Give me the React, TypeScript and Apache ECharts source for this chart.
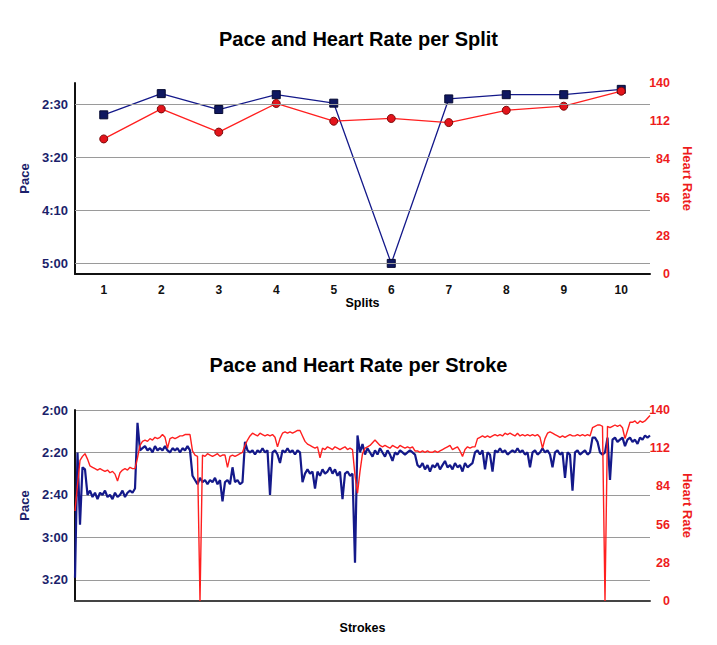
import React, { useEffect, useRef } from "react";
import * as echarts from "echarts";

// ---------- data ----------
const SPLITS = ["1", "2", "3", "4", "5", "6", "7", "8", "9", "10"];
// pace in seconds per 500m
const SPLIT_PACE = [160, 140, 155, 141, 149, 300, 145, 141, 141, 136];
const SPLIT_HR = [99, 121, 104, 125, 112, 114, 111, 120, 123, 134];
const SPLIT_PACE_GRID = [150, 200, 250, 300];

const STROKE_PACE = [
  199, 140, 174, 147, 148, 160, 158, 161, 159, 162,
  159, 160, 158, 161, 160, 162, 159, 161, 160, 158,
  161, 159, 158, 159, 157, 126, 139, 138, 137, 139,
  138, 140, 137, 139, 138, 139, 137, 139, 140, 138,
  139, 138, 140, 138, 139, 137, 139, 151, 153, 155,
  152, 154, 153, 155, 153, 154, 152, 155, 153, 163,
  154, 153, 155, 147, 154, 153, 155, 154, 135, 139,
  140, 139, 141, 139, 140, 138, 140, 139, 160, 140,
  139, 141, 145, 139, 140, 138, 140, 139, 141, 139,
  140, 154, 150, 148, 150, 149, 157, 149, 151, 148,
  150, 149, 147, 150, 148, 151, 149, 162, 150, 149,
  151, 150, 192, 132, 140, 136, 141, 138, 140, 142,
  139, 141, 138, 140, 142, 139, 141, 144, 140, 141,
  139, 140, 141, 140, 139, 140, 141, 146, 147, 145,
  148, 146, 149, 146, 147, 145, 148, 146, 144, 147,
  146, 148, 145, 147, 146, 149, 145, 147, 146, 145,
  140, 139, 141, 139, 148, 140, 141, 149, 139, 140,
  138, 140, 139, 141, 140, 139, 140, 138, 140, 139,
  141, 140, 147, 140, 139, 141, 140, 138, 140, 139,
  141, 147, 140, 139, 141, 140, 152, 140, 141, 158,
  140, 139, 141, 140, 139, 141, 140, 133, 133, 135,
  140, 141, 140, 133, 153, 134, 133, 135, 134, 133,
  137, 134, 133, 135, 134, 136, 133, 134, 132, 133,
  132,
];

const STROKE_HR = [
  66, 85, 103, 106, 108, 104, 99, 98, 97, 96,
  97, 96, 95, 96, 94, 95, 93, 88, 94, 96,
  97, 96, 98, 97, 97, 105, 114, 117, 118, 117,
  119, 118, 120, 119, 120, 122, 120, 112, 119, 120,
  119, 120, 121, 121, 122, 122, 122, 110, 107, 106,
  0, 107, 106, 108, 107, 106, 107, 108, 106, 107,
  107, 98, 106, 107, 106, 107, 108, 109, 114, 118,
  121, 123, 122, 121, 123, 122, 121, 122, 121, 122,
  120, 113, 119, 123, 124, 123, 124, 123, 124, 125,
  125, 121, 117, 115, 114, 113, 112, 113, 105, 112,
  111, 113, 112, 111, 113, 112, 111, 112, 113, 111,
  112, 111, 92, 79, 95, 108, 112, 113, 114, 116,
  118, 116, 114, 113, 114, 113, 112, 114, 113, 112,
  114, 113, 112, 113, 112, 113, 110, 110, 109, 110,
  109, 110, 109, 109, 110, 109, 110, 111, 112, 113,
  114, 111, 112, 113, 110, 106, 111, 113, 112, 113,
  113, 119, 120, 121, 120, 121, 120, 121, 122, 121,
  122, 121, 123, 122, 123, 122, 121, 123, 121, 122,
  121, 122, 121, 122, 121, 122, 120, 112, 119, 123,
  124, 123, 122, 121, 120, 121, 120, 121, 122, 121,
  121, 122, 121, 122, 121, 122, 121, 127, 128, 129,
  129, 128, 0, 128, 127, 128, 129, 128, 129, 127,
  119, 125, 131, 131, 132, 130, 132, 131, 132, 134,
  136,
];

// ---------- styling ----------
const FONT = '"Liberation Sans", Arial, Helvetica, sans-serif';
const NAVY_TEXT = "#1c1f6b";
const NAVY_LINE = "#14198a";
const NAVY_MARK = "#0f1860";
const RED_TEXT = "#ee1c1c";
const RED_LINE = "#ff1f1f";
const RED_MARK = "#e3141b";
const GRID_COLOR = "#9a9a9a";

const fmtPace = (v: number) => {
  const m = Math.floor(v / 60);
  const s = Math.round(v - m * 60);
  return `${m}:${s < 10 ? "0" : ""}${s}`;
};

export default function App() {
  const ref = useRef<HTMLDivElement>(null);

  useEffect(() => {
    if (!ref.current) return;
    const chart = echarts.init(ref.current, undefined, { renderer: "svg" });
    const strokeIdx = STROKE_PACE.map((_, i) => String(i + 1));

    const titleStyle = { fontSize: 20, fontWeight: "bold" as const, color: "#000", fontFamily: FONT };
    const paceLabel = {
      color: NAVY_TEXT,
      fontWeight: "bold" as const,
      fontSize: 13,
      fontFamily: FONT,
      margin: 7,
    };
    const hrLabel = {
      color: RED_TEXT,
      fontWeight: "bold" as const,
      fontSize: 12.5,
      fontFamily: FONT,
      align: "right" as const,
      margin: 20,
    };
    const paceName = { color: NAVY_TEXT, fontWeight: "bold" as const, fontSize: 13, fontFamily: FONT };
    const hrName = { color: RED_TEXT, fontWeight: "bold" as const, fontSize: 13, fontFamily: FONT };
    const xName = { color: "#000", fontWeight: "bold" as const, fontSize: 12.5, fontFamily: FONT };

    chart.setOption({
      animation: false,
      backgroundColor: "#fff",
      title: [
        { text: "Pace and Heart Rate per Split", left: "center", top: 24, textStyle: titleStyle },
        { text: "Pace and Heart Rate per Stroke", left: "center", top: 350, textStyle: titleStyle },
      ],
      grid: [
        { left: 75, top: 83, width: 575, height: 191 },
        { left: 75, top: 410, width: 575, height: 191 },
      ],
      xAxis: [
        {
          type: "category",
          gridIndex: 0,
          data: SPLITS,
          boundaryGap: true,
          axisLine: { show: true, onZero: false, lineStyle: { color: "#111", width: 2 } },
          axisTick: { show: false },
          axisLabel: { color: "#111", fontWeight: "bold", fontSize: 12, fontFamily: FONT, margin: 10 },
          name: "Splits",
          nameLocation: "middle",
          nameGap: 19,
          nameTextStyle: xName,
        },
        {
          type: "category",
          gridIndex: 1,
          data: strokeIdx,
          boundaryGap: false,
          axisLine: { show: true, onZero: false, lineStyle: { color: "#444", width: 2 } },
          axisTick: { show: false },
          axisLabel: { show: false },
          name: "Strokes",
          nameLocation: "middle",
          nameGap: 20,
          nameTextStyle: xName,
        },
      ],
      yAxis: [
        {
          type: "value",
          gridIndex: 0,
          inverse: true,
          min: 130,
          max: 310,
          interval: 10,
          axisLine: { show: true, lineStyle: { color: "#111", width: 2 } },
          axisTick: { show: false },
          splitLine: { show: false },
          axisLabel: {
            ...paceLabel,
            formatter: (v: number) => (SPLIT_PACE_GRID.includes(v) ? fmtPace(v) : ""),
          },
          name: "Pace",
          nameLocation: "middle",
          nameGap: 38,
          nameTextStyle: paceName,
        },
        {
          type: "value",
          gridIndex: 0,
          position: "right",
          min: 0,
          max: 140,
          interval: 28,
          axisLine: { show: false },
          axisTick: { show: false },
          splitLine: { show: false },
          axisLabel: hrLabel,
          name: "Heart Rate",
          nameLocation: "middle",
          nameRotate: -90,
          nameGap: 31,
          nameTextStyle: hrName,
        },
        {
          type: "value",
          gridIndex: 1,
          inverse: true,
          min: 120,
          max: 210,
          interval: 20,
          axisLine: { show: true, lineStyle: { color: "#111", width: 2 } },
          axisTick: { show: false },
          splitLine: { show: true, lineStyle: { color: GRID_COLOR, width: 1 } },
          axisLabel: {
            ...paceLabel,
            formatter: (v: number) => (v <= 200 ? fmtPace(v) : ""),
          },
          name: "Pace",
          nameLocation: "middle",
          nameGap: 38,
          nameTextStyle: paceName,
        },
        {
          type: "value",
          gridIndex: 1,
          position: "right",
          min: 0,
          max: 140,
          interval: 28,
          axisLine: { show: false },
          axisTick: { show: false },
          splitLine: { show: false },
          axisLabel: hrLabel,
          name: "Heart Rate",
          nameLocation: "middle",
          nameRotate: -90,
          nameGap: 31,
          nameTextStyle: hrName,
        },
      ],
      series: [
        {
          type: "line",
          xAxisIndex: 0,
          yAxisIndex: 0,
          data: [],
          z: 1,
          silent: true,
          markLine: {
            silent: true,
            symbol: "none",
            label: { show: false },
            lineStyle: { color: GRID_COLOR, width: 1, type: "solid" },
            data: SPLIT_PACE_GRID.map((v) => ({ yAxis: v })),
          },
        },
        {
          type: "line",
          name: "Pace",
          xAxisIndex: 0,
          yAxisIndex: 0,
          data: SPLIT_PACE,
          symbol: "rect",
          symbolSize: 8,
          lineStyle: { color: NAVY_LINE, width: 1.3 },
          itemStyle: { color: NAVY_MARK, borderColor: "#070b33", borderWidth: 1 },
          z: 3,
        },
        {
          type: "line",
          name: "Heart Rate",
          xAxisIndex: 0,
          yAxisIndex: 1,
          data: SPLIT_HR,
          symbol: "circle",
          symbolSize: 8,
          lineStyle: { color: RED_LINE, width: 1.3 },
          itemStyle: { color: RED_MARK, borderColor: "#7a0a0a", borderWidth: 1 },
          z: 4,
        },
        {
          type: "line",
          name: "Pace",
          xAxisIndex: 1,
          yAxisIndex: 2,
          data: STROKE_PACE,
          showSymbol: false,
          symbol: "none",
          lineStyle: { color: NAVY_LINE, width: 2.2 },
          z: 3,
        },
        {
          type: "line",
          name: "Heart Rate",
          xAxisIndex: 1,
          yAxisIndex: 3,
          data: STROKE_HR,
          showSymbol: false,
          symbol: "none",
          lineStyle: { color: RED_LINE, width: 1.4 },
          z: 4,
        },
      ],
    });

    return () => chart.dispose();
  }, []);

  return (
    <div
      ref={ref}
      style={{ position: "absolute", left: 0, top: 0, width: 717, height: 645, background: "#fff" }}
    />
  );
}
